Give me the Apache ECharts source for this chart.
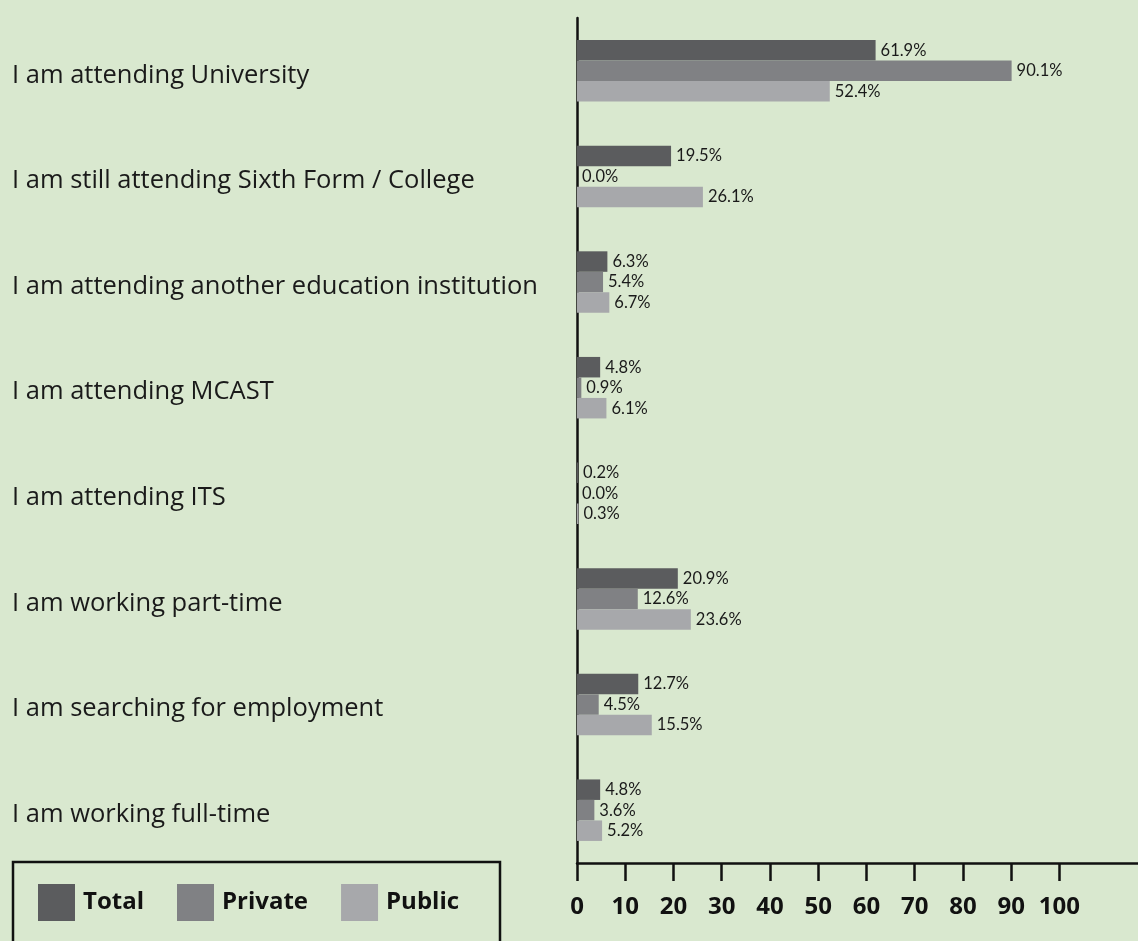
<!DOCTYPE html>
<html>
<head>
<meta charset="utf-8">
<script src="https://cdn.jsdelivr.net/npm/echarts@6/dist/echarts.min.js"></script>
<style>
  html, body { margin: 0; padding: 0; background: #d9e8cf; }
  #chart { width: 1138px; height: 941px; }
</style>
</head>
<body>
<div id="chart"></div>
<script>
// Survey outcomes by school type (percent of respondents)
const categories = [
  'I am attending University',
  'I am still attending Sixth Form / College',
  'I am attending another education institution',
  'I am attending MCAST',
  'I am attending ITS',
  'I am working part-time',
  'I am searching for employment',
  'I am working full-time'
];
const totalValues   = [61.9, 19.5, 6.3, 4.8, 0.2, 20.9, 12.7, 4.8];
const privateValues = [90.1, 0.0, 5.4, 0.9, 0.0, 12.6, 4.5, 3.6];
const publicValues  = [52.4, 26.1, 6.7, 6.1, 0.3, 23.6, 15.5, 5.2];
const xTickValues = [0, 10, 20, 30, 40, 50, 60, 70, 80, 90, 100];

const seriesNames = ['Total', 'Private', 'Public'];
const seriesColors = ['#5b5c5e', '#808184', '#a7a8ab'];
const FONT = '"Open Sans", "DejaVu Sans", sans-serif';
const LABEL_FONT = 'Lato, "Open Sans", sans-serif';

function makeSeries(name, values, color) {
  return {
    name: name,
    type: 'bar',
    data: values,
    barWidth: 20.5,
    barGap: '0%',
    itemStyle: { color: color },
    label: {
      show: true,
      position: 'right',
      distance: 5,
      color: '#1a1a1a',
      fontFamily: LABEL_FONT,
      fontSize: 16.5,
      formatter: p => p.value.toFixed(1) + '%'
    }
  };
}

const chart = echarts.init(document.getElementById('chart'));
chart.setOption({
  backgroundColor: '#d9e8cf',
  animation: false,
  grid: { left: 577, right: 0, top: 18, bottom: 78 },
  legend: {
    left: 33,
    top: 879,
    itemWidth: 37,
    itemHeight: 37,
    itemGap: 33,
    icon: 'rect',
    textStyle: {
      fontFamily: FONT, fontSize: 24, fontWeight: 'bold', color: '#111',
      padding: [0, 0, 0, 3]
    },
    data: seriesNames
  },
  xAxis: {
    type: 'value',
    min: 0,
    max: 116.3,
    splitLine: { show: false },
    axisLine: { show: true, lineStyle: { color: '#111', width: 2.5 } },
    axisTick: {
      show: true, length: 18, customValues: xTickValues,
      lineStyle: { color: '#111', width: 2.5 }
    },
    axisLabel: {
      customValues: xTickValues,
      margin: 32,
      color: '#111',
      fontFamily: FONT,
      fontSize: 24,
      fontWeight: 'bold'
    }
  },
  yAxis: {
    type: 'category',
    inverse: true,
    data: categories,
    axisLine: { show: true, lineStyle: { color: '#111', width: 2.5 } },
    axisTick: { show: false },
    axisLabel: {
      align: 'left',
      margin: 565,
      formatter: v => '{t|' + v + '}',
      rich: {
        t: {
          color: '#1a1a1a',
          fontFamily: FONT,
          fontSize: 25.5,
          padding: [9, 0, 0, 0]
        }
      }
    }
  },
  graphic: [{
    type: 'rect',
    shape: { x: 13, y: 862, width: 487, height: 120 },
    style: { fill: 'none', stroke: '#111', lineWidth: 2.5 },
    z: 100
  }],
  series: [
    makeSeries(seriesNames[0], totalValues, seriesColors[0]),
    makeSeries(seriesNames[1], privateValues, seriesColors[1]),
    makeSeries(seriesNames[2], publicValues, seriesColors[2])
  ]
});
</script>
</body>
</html>
